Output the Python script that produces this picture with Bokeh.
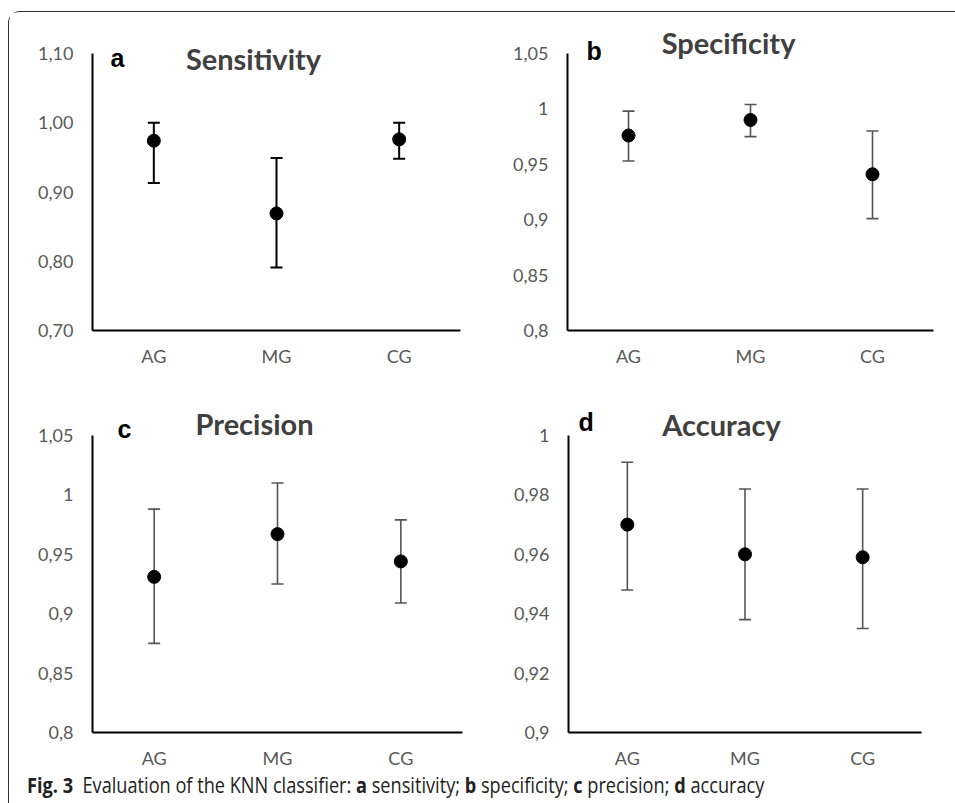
from bokeh.plotting import figure
from bokeh.models import (FixedTicker, Whisker, TeeHead, ColumnDataSource, Label,
                          Div, FactorRange, Range1d)
from bokeh.layouts import row, column
from bokeh.embed import file_html
from bokeh.resources import INLINE

# ---------------- data ----------------
categories = ["AG", "MG", "CG"]

sens_mean = [0.974, 0.869, 0.976]
sens_low = [0.913, 0.791, 0.948]
sens_high = [1.000, 0.949, 1.000]

spec_mean = [0.976, 0.990, 0.941]
spec_low = [0.953, 0.975, 0.901]
spec_high = [0.998, 1.004, 0.980]

prec_mean = [0.931, 0.967, 0.944]
prec_low = [0.875, 0.925, 0.909]
prec_high = [0.988, 1.010, 0.979]

acc_mean = [0.970, 0.960, 0.959]
acc_low = [0.948, 0.938, 0.935]
acc_high = [0.991, 0.982, 0.982]

sens_ticks = [0.70, 0.80, 0.90, 1.00, 1.10]
sens_tick_labels = ["0,70", "0,80", "0,90", "1,00", "1,10"]
spec_ticks = [0.80, 0.85, 0.90, 0.95, 1.00, 1.05]
spec_tick_labels = ["0,8", "0,85", "0,9", "0,95", "1", "1,05"]
prec_ticks = [0.80, 0.85, 0.90, 0.95, 1.00, 1.05]
prec_tick_labels = ["0,8", "0,85", "0,9", "0,95", "1", "1,05"]
acc_ticks = [0.90, 0.92, 0.94, 0.96, 0.98, 1.00]
acc_tick_labels = ["0,9", "0,92", "0,94", "0,96", "0,98", "1"]

TICK_FONT = "Lato"
TICK_COLOR = "#595959"
EXT = 28       # px of headroom above the axis top for the panel titles
LABEL_DY = 11  # px upward correction for the panel letter / title labels


def make_panel(letter, title, mean, low, high, yr, ticks, tick_labels,
               fw, fh, bl, br, bt, bb, bar_color, bar_width,
               letter_xy, title_xy):
    y0, y1 = yr
    per_px = (y1 - y0) / fh
    y1_ext = y1 + EXT * per_px
    p = figure(x_range=FactorRange(factors=categories), y_range=Range1d(y0, y1_ext),
               frame_width=fw, frame_height=fh + EXT,
               min_border_left=bl, min_border_right=br,
               min_border_top=bt - EXT, min_border_bottom=bb,
               output_backend="svg", toolbar_location=None,
               background_fill_color="white", border_fill_color="white",
               outline_line_color=None)
    p.xgrid.visible = False
    p.ygrid.visible = False
    for ax in (p.xaxis[0], p.yaxis[0]):
        ax.axis_line_color = "black"
        ax.axis_line_width = 2
        ax.major_tick_line_color = None
        ax.minor_tick_line_color = None
        ax.major_tick_in = 0
        ax.major_tick_out = 0
        ax.major_label_text_font = TICK_FONT
        ax.major_label_text_font_size = "18px"
        ax.major_label_text_color = TICK_COLOR
    p.yaxis[0].bounds = (y0, y1)
    p.yaxis[0].ticker = FixedTicker(ticks=ticks)
    p.yaxis[0].major_label_overrides = dict(zip(ticks, tick_labels))
    p.yaxis[0].major_label_standoff = 19
    p.xaxis[0].major_label_standoff = 14

    src = ColumnDataSource(dict(x=categories, mean=mean, low=low, high=high))
    w = Whisker(source=src, base="x", lower="low", upper="high",
                dimension="height", line_color=bar_color, line_width=bar_width,
                upper_head=TeeHead(size=12, line_color=bar_color, line_width=bar_width),
                lower_head=TeeHead(size=12, line_color=bar_color, line_width=bar_width))
    p.add_layout(w)
    p.scatter("x", "mean", source=src, size=13, color="black")

    dy = LABEL_DY * per_px
    p.add_layout(Label(x=letter_xy[0], y=letter_xy[1] + dy, text=letter,
                       text_font="Liberation Sans", text_font_style="bold",
                       text_font_size="25px", text_color="black",
                       text_baseline="alphabetic", text_align="left"))
    p.add_layout(Label(x=title_xy[0], y=title_xy[1] + dy, text=title,
                       text_font="Lato", text_font_style="bold",
                       text_font_size="29px", text_color="#404040",
                       text_baseline="alphabetic", text_align="center"))
    return p


pa = make_panel("a", "Sensitivity", sens_mean, sens_low, sens_high, (0.70, 1.10),
                sens_ticks, sens_tick_labels, 368, 277, 83, 18, 40, 61,
                "black", 2, (0.147, 1.0783), (1.3125, 1.0769))
pb = make_panel("b", "Specificity", spec_mean, spec_low, spec_high, (0.80, 1.05),
                spec_ticks, spec_tick_labels, 366, 277, 89, 13, 41, 60,
                "#555555", 1.6, (0.156, 1.0419), (1.32, 1.05))
pc = make_panel("c", "Precision", prec_mean, prec_low, prec_high, (0.80, 1.05),
                prec_ticks, prec_tick_labels, 370, 297, 83, 16, 45, 39,
                "#555555", 1.6, (0.203, 1.0458), (1.314, 1.0508))
pd = make_panel("d", "Accuracy", acc_mean, acc_low, acc_high, (0.90, 1.00),
                acc_ticks, acc_tick_labels, 353, 297, 90, 25, 45, 39,
                "#555555", 1.6, (0.085, 1.0007), (1.30, 1.0))

caption = Div(
    text=("<b>Fig. 3</b>&nbsp; Evaluation of the KNN classifier: <b>a</b> sensitivity; "
          "<b>b</b> specificity; <b>c</b> precision; <b>d</b> accuracy"),
    width=938, height=23,
    styles={"font-family": "Open Sans", "font-size": "21px", "line-height": "23px",
            "color": "#222222", "white-space": "nowrap",
            "transform": "translate(13px, -2px) scaleX(0.865)",
            "transform-origin": "left top"})

layout = column(row(pa, pb), row(pc, pd), caption,
                styles={"border-top": "1px solid #333333",
                        "border-left": "1px solid #333333",
                        "border-top-left-radius": "12px",
                        "margin-top": "11px", "margin-left": "8px"})

open("out.html", "w").write(file_html(layout, INLINE))
